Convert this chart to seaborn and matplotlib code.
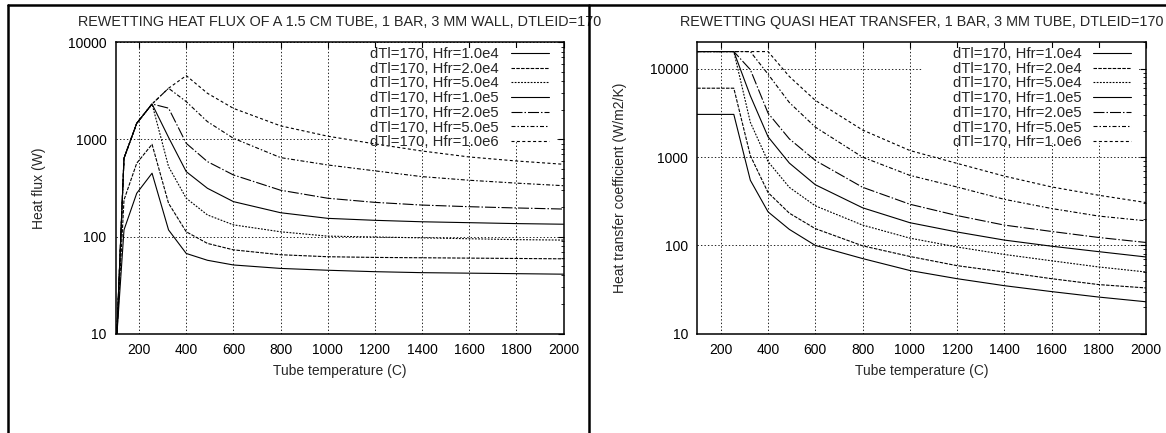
import numpy as np
import pandas as pd
import matplotlib
matplotlib.use("Agg")
import matplotlib.pyplot as plt
import seaborn as sns
from matplotlib.lines import Line2D
from matplotlib.patches import Rectangle
from matplotlib.ticker import LogLocator, NullFormatter, NullLocator

# ---------------- data ----------------
series_labels = ["dTl=170, Hfr=1.0e4", "dTl=170, Hfr=2.0e4", "dTl=170, Hfr=5.0e4",
                 "dTl=170, Hfr=1.0e5", "dTl=170, Hfr=2.0e5", "dTl=170, Hfr=5.0e5",
                 "dTl=170, Hfr=1.0e6"]

# Left panel: heat flux (W) vs tube temperature (C)
temp_flux = [105, 136, 190, 255, 325, 400, 490, 600, 800, 1000, 1200, 1400, 1600, 1800, 2000]
flux_1e4 = [9, 117, 279, 449, 117, 67, 57, 51, 47, 45, 43.5, 42.5, 42, 41.5, 41]
flux_2e4 = [9, 238, 569, 891, 220, 112, 85, 73, 65, 62, 61, 60.5, 60, 59.5, 59]
flux_5e4 = [9, 640, 1466, 2317, 525, 248, 167, 132, 112, 101, 99, 97, 95, 93, 92]
flux_1e5 = [9, 640, 1466, 2317, 1050, 466, 314, 229, 176, 154, 147, 142, 139, 136, 134]
flux_2e5 = [9, 640, 1466, 2317, 2100, 912, 591, 431, 300, 248, 225, 211, 203, 197, 192]
flux_5e5 = [9, 640, 1466, 2317, 3365, 2450, 1524, 1028, 650, 546, 475, 414, 380, 355, 334]
flux_1e6 = [9, 640, 1466, 2317, 3365, 4540, 2985, 2090, 1380, 1080, 900, 760, 660, 600, 555]

# Right panel: quasi heat transfer coefficient (W/m2/K) vs tube temperature (C)
temp_htc = [100, 255, 325, 400, 490, 600, 800, 1000, 1200, 1400, 1600, 1800, 2000]
htc_1e4 = [3050, 3050, 547, 240, 152, 100, 71, 52, 42, 35, 30, 26, 23]
htc_2e4 = [6040, 6040, 1040, 397, 232, 155, 99, 75, 59, 50, 42, 36, 33]
htc_5e4 = [15700, 15700, 2480, 890, 455, 281, 170, 121, 96, 79, 67, 57, 50]
htc_1e5 = [15700, 15700, 4950, 1700, 857, 487, 267, 181, 142, 115, 98, 85, 74]
htc_2e5 = [15700, 15700, 9800, 3150, 1612, 917, 456, 293, 218, 170, 144, 123, 108]
htc_5e5 = [15700, 15700, 15700, 8700, 4160, 2190, 1000, 622, 459, 333, 262, 215, 190]
htc_1e6 = [15700, 15700, 15700, 15700, 8200, 4400, 2030, 1190, 850, 610, 460, 370, 306]

x_ticks = [200, 400, 600, 800, 1000, 1200, 1400, 1600, 1800, 2000]

left_title = "REWETTING HEAT FLUX OF A 1.5 CM TUBE, 1 BAR, 3 MM WALL, DTLEID=170"
right_title = "REWETTING QUASI HEAT TRANSFER, 1 BAR, 3 MM TUBE, DTLEID=170"
x_label = "Tube temperature (C)"
left_ylabel = "Heat flux (W)"
right_ylabel = "Heat transfer coefficient (W/m2/K)"

# ---------------- style ----------------
sns.set_style("white")
plt.rcParams["font.family"] = ["Liberation Sans", "DejaVu Sans"]
plt.rcParams["lines.scale_dashes"] = False

PX = 1 / 1.389  # points per pixel at 100 dpi
dash_map = {
    series_labels[0]: "",
    series_labels[1]: (3.5 * PX, 1.3 * PX),
    series_labels[2]: (1.8 * PX, 1.4 * PX),
    series_labels[3]: "",
    series_labels[4]: (11 * PX, 2 * PX, 1.5 * PX, 2 * PX),
    series_labels[5]: (4 * PX, 2 * PX, 1.5 * PX, 2 * PX),
    series_labels[6]: (3 * PX, 2.4 * PX),
}

W, H = 1166, 433
fig = plt.figure(figsize=(W / 100, H / 100), dpi=100)
fig.patch.set_facecolor("white")

ax_top, ax_bot = 42.3, 333.7
ax1 = fig.add_axes([115.5 / W, 1 - ax_bot / H, (563.5 - 115.5) / W, (ax_bot - ax_top) / H])
ax2 = fig.add_axes([697.2 / W, 1 - ax_bot / H, (1146 - 697.2) / W, (ax_bot - ax_top) / H])


def long_frame(temps, cols):
    rows = []
    for lab, vals in zip(series_labels, cols):
        for t, v in zip(temps, vals):
            rows.append({"T": t, "v": v, "series": lab})
    return pd.DataFrame(rows)


df_flux = long_frame(temp_flux, [flux_1e4, flux_2e4, flux_5e4, flux_1e5, flux_2e5, flux_5e5, flux_1e6])
df_htc = long_frame(temp_htc, [htc_1e4, htc_2e4, htc_5e4, htc_1e5, htc_2e5, htc_5e5, htc_1e6])


def draw(ax, df, ylim, yticks, title, ylabel, blank):
    ax.set_yscale("log")
    sns.lineplot(data=df, x="T", y="v", style="series", style_order=series_labels,
                 dashes=dash_map, color="black", linewidth=0.8, estimator=None,
                 legend=False, ax=ax, zorder=2)
    ax.set_xlim(100, 2000)
    ax.set_ylim(*ylim)
    ax.set_xticks(x_ticks, labels=[str(t) for t in x_ticks])
    ax.xaxis.set_minor_locator(NullLocator())
    ax.set_yticks(yticks, labels=[str(t) for t in yticks])
    ax.yaxis.set_minor_locator(LogLocator(base=10, subs=np.arange(2, 10)))
    ax.yaxis.set_minor_formatter(NullFormatter())
    ax.set_axisbelow(True)
    ax.grid(True, which="major", color="black", linestyle=(0, (1, 1.5)), linewidth=0.6)
    ax.tick_params(which="both", direction="in", top=True, right=True, colors="black")
    ax.tick_params(which="major", length=4.5, width=0.8, pad=6.5, labelsize=10)
    ax.tick_params(which="minor", length=2.5, width=0.6)
    for sp in ax.spines.values():
        sp.set_color("black")
        sp.set_linewidth(1.1)
    ax.set_title(title, fontsize=10.4, pad=11.5)
    ax.set_xlabel(x_label, fontsize=10, labelpad=5)
    ax.set_ylabel(ylabel, fontsize=10, labelpad=16)
    # blank area behind the key (hides grid, not the curves)
    ax.add_patch(Rectangle((blank[0], blank[1]), 0.984 - blank[0], 0.98 - blank[1],
                           transform=ax.transAxes, facecolor="white", edgecolor="none", zorder=1))
    handles = ax.get_lines()[:len(series_labels)]
    ax.legend(handles, series_labels, loc="upper right", bbox_to_anchor=(0.967, 0.984),
              frameon=False, markerfirst=False, fontsize=10.7, handlelength=2.56,
              handletextpad=0.8, labelspacing=0.05, borderaxespad=0, borderpad=0)


draw(ax1, df_flux, (10, 10000), [10, 100, 1000, 10000], left_title, left_ylabel, (0.49, 0.665))
draw(ax2, df_htc, (10, 20000), [10, 100, 1000, 10000], right_title, right_ylabel, (0.503, 0.654))

# frame lines of the two panels
lw_frame = 1.8
fig.add_artist(Line2D([7.8 / W, 1], [1 - 5.3 / H, 1 - 5.3 / H], transform=fig.transFigure,
                      color="black", lw=lw_frame, zorder=10))
fig.add_artist(Line2D([7.8 / W, 7.8 / W], [0, 1 - 5.3 / H], transform=fig.transFigure,
                      color="black", lw=lw_frame, zorder=10))
fig.add_artist(Line2D([588.7 / W, 588.7 / W], [0, 1 - 5.3 / H], transform=fig.transFigure,
                      color="black", lw=lw_frame, zorder=10))

fig.savefig("out.png", dpi=100, facecolor="white")
